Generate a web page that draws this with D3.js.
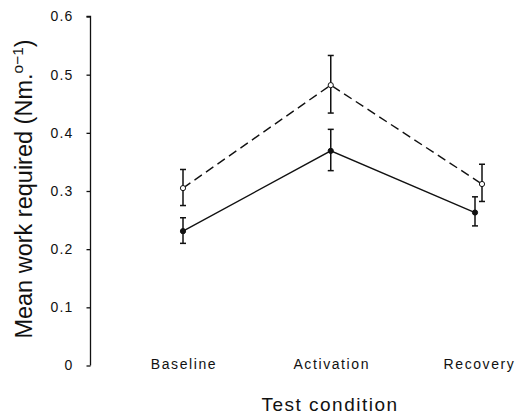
<!DOCTYPE html>
<html>
<head>
<meta charset="utf-8">
<script src="https://cdn.jsdelivr.net/npm/d3@7"></script>
<style>
  body { margin: 0; background: #fff; }
  svg text { font-family: "Liberation Sans", Arial, Helvetica, sans-serif; fill: #111; }
</style>
</head>
<body>
<svg id="chart" width="522" height="417"></svg>
<script>
// values
let conditions = ['Baseline', 'Activation', 'Recovery'];
let yTicks = [0, 0.1, 0.2, 0.3, 0.4, 0.5, 0.6];

let openMean  = [0.305, 0.482, 0.312];
let openUpper = [0.337, 0.533, 0.346];
let openLower = [0.275, 0.434, 0.282];

let filledMean  = [0.231, 0.369, 0.263];
let filledUpper = [0.254, 0.406, 0.290];
let filledLower = [0.210, 0.335, 0.240];

let svg = d3.select('#chart');

let y = d3.scaleLinear().domain([0, 0.6]).range([365.5, 16.5]);
let x = d3.scalePoint().domain(conditions).range([183, 478.5]);

// small sideways nudge at Recovery so the two bars don't overlap
let nudge = function(series, i) {
  if (i < 2) return 0;
  return series == 'open' ? 3.5 : -3.5;
}

let yAxis = d3.axisLeft(y)
  .tickValues(yTicks)
  .tickSize(4)
  .tickPadding(13)
  .tickFormat(d => d == 0 ? '0' : d3.format('.1f')(d));

let ya = svg.append('g').attr('transform', 'translate(90.5,0)').call(yAxis);
ya.select('.domain').attr('stroke', '#111').attr('stroke-width', 1.3).attr('d', 'M-4,' + y(0.6) + 'H0V' + y(0));
ya.selectAll('.tick line').attr('stroke', '#111').attr('stroke-width', 1.3);
ya.selectAll('.tick text').attr('font-size', 14).attr('letter-spacing', 1.2).style('fill', '#111');

// category labels
svg.selectAll('.cat').data(conditions).enter().append('text')
  .attr('class', 'cat')
  .attr('x', d => x(d) + 1)
  .attr('y', 369)
  .attr('text-anchor', 'middle')
  .attr('font-size', 14)
  .attr('letter-spacing', 1.6)
  .text(d => d);

// axis titles
svg.append('text')
  .attr('x', 330).attr('y', 411)
  .attr('text-anchor', 'middle')
  .attr('font-size', 19)
  .attr('letter-spacing', 1.5)
  .text('Test condition');

let yl = svg.append('text')
  .attr('transform', 'translate(32,189) rotate(-90)')
  .attr('text-anchor', 'middle')
  .attr('font-size', 23.5);
yl.append('tspan').text('Mean work required (Nm.');
yl.append('tspan').attr('dy', -9).attr('font-size', 15.5).text('o\u22121');
yl.append('tspan').attr('dy', 9).text(')');

let drawSeries = function(name, mean, upper, lower, dash, fill) {
  let pts = mean.map((m, i) => ({ cx: x(conditions[i]) + nudge(name, i), m: m, hi: upper[i], lo: lower[i] }));
  let line = d3.line().x(d => d.cx).y(d => y(d.m));
  let g = svg.append('g');
  g.append('path').datum(pts)
    .attr('d', line)
    .attr('fill', 'none')
    .attr('stroke', '#111')
    .attr('stroke-width', 1.4)
    .attr('stroke-dasharray', dash);
  let eb = g.selectAll('.eb').data(pts).enter().append('g').attr('stroke', '#111').attr('stroke-width', 1.5);
  eb.append('line').attr('x1', d => d.cx).attr('x2', d => d.cx).attr('y1', d => y(d.hi)).attr('y2', d => y(d.lo));
  eb.append('line').attr('x1', d => d.cx - 3).attr('x2', d => d.cx + 3).attr('y1', d => y(d.hi)).attr('y2', d => y(d.hi));
  eb.append('line').attr('x1', d => d.cx - 3).attr('x2', d => d.cx + 3).attr('y1', d => y(d.lo)).attr('y2', d => y(d.lo));
  g.selectAll('circle').data(pts).enter().append('circle')
    .attr('cx', d => d.cx).attr('cy', d => y(d.m))
    .attr('r', 2.6)
    .attr('fill', fill)
    .attr('stroke', '#111')
    .attr('stroke-width', 1);
}

drawSeries('open', openMean, openUpper, openLower, '9,5', '#fff');
drawSeries('filled', filledMean, filledUpper, filledLower, null, '#111');
</script>
</body>
</html>
